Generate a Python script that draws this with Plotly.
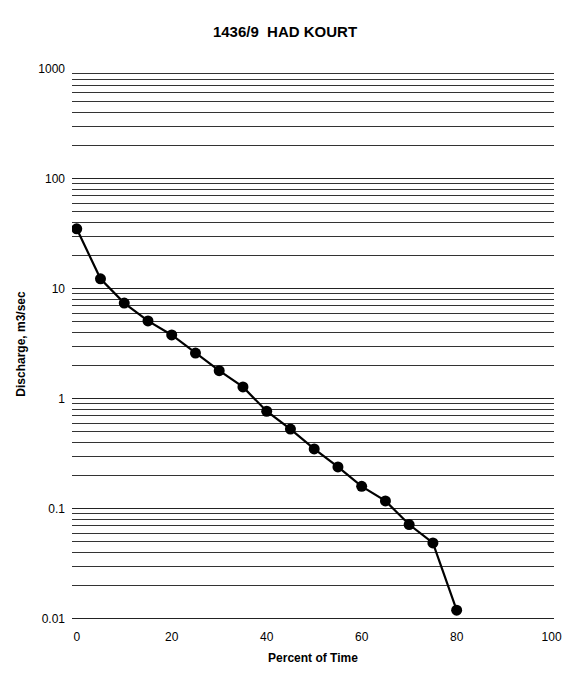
import plotly.graph_objects as go

title = "1436/9  HAD KOURT"
percent_time = [0, 5, 10, 15, 20, 25, 30, 35, 40, 45, 50, 55, 60, 65, 70, 75, 80]
discharge = [35, 12.3, 7.4, 5.1, 3.8, 2.6, 1.8, 1.28, 0.77, 0.53, 0.35, 0.24, 0.16, 0.118, 0.072, 0.049, 0.012]
x_ticks = [0, 20, 40, 60, 80, 100]
y_ticks = [0.01, 0.1, 1, 10, 100, 1000]
y_tick_text = ["0.01", "0.1", "1", "10", "100", "1000"]
minor_vals = [m * d for d in [0.01, 0.1, 1, 10, 100] for m in range(2, 10)]

font_family = "Liberation Sans, Arial, sans-serif"

fig = go.Figure()
fig.add_trace(go.Scatter(
    x=percent_time, y=discharge, mode="lines+markers",
    line=dict(color="black", width=2.2),
    marker=dict(color="black", size=11),
    showlegend=False,
))

fig.update_layout(
    width=570, height=684,
    margin=dict(l=72, r=8, t=68, b=64),
    paper_bgcolor="white", plot_bgcolor="white",
    title=dict(text="<b>" + title + "</b>", x=0.5, xanchor="center", y=0.953, yanchor="middle",
               font=dict(family=font_family, size=15, color="black")),
    font=dict(family=font_family, color="black"),
)
fig.update_xaxes(
    range=[-1, 100.5], tickvals=x_ticks, showgrid=False, zeroline=False, showline=False,
    ticks="", tickfont=dict(size=12, color="black"), ticklabelstandoff=8,
    title=dict(text="<b>Percent of Time</b>", font=dict(size=12), standoff=10),
)
fig.update_yaxes(
    type="log", range=[-2.01, 3.005], tickvals=y_ticks, ticktext=y_tick_text,
    showgrid=True, gridcolor="#222", gridwidth=1, zeroline=False, showline=False,
    ticks="", tickfont=dict(size=12, color="black"), ticklabelstandoff=6,
    minor=dict(tickvals=minor_vals, showgrid=True, gridcolor="#333", gridwidth=1, ticks=""),
    title=dict(text="<b>Discharge, m3/sec</b>", font=dict(size=12), standoff=10),
)

fig.write_html("out.html")
